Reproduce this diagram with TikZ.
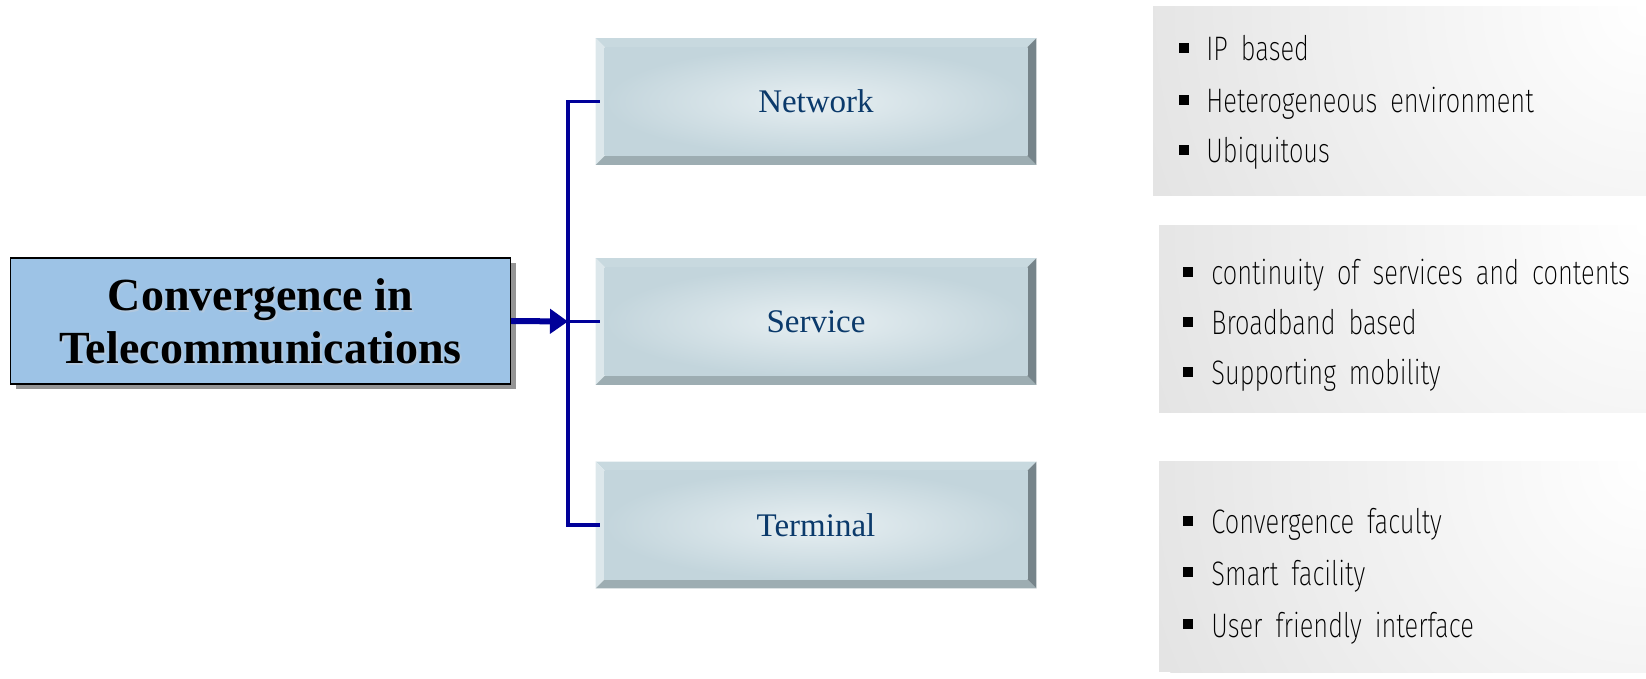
\documentclass[tikz,border=0pt]{standalone}
\usepackage{fontspec}
\setmainfont{Liberation Serif}
\newfontfamily\bulletfont{Fira Sans ExtraLight}[FakeStretch=0.75,WordSpace=1.8]
\usetikzlibrary{arrows.meta,shadows,backgrounds,calc}
\definecolor{convblue}{HTML}{9DC3E6}
\definecolor{convghost}{HTML}{B2C8DE}
\definecolor{linkblue}{HTML}{000099}
\definecolor{navytext}{HTML}{0B3A6B}
\definecolor{bevtop}{HTML}{C8D9DF}
\definecolor{bevleft}{HTML}{DCE7EB}
\definecolor{bevright}{HTML}{76848A}
\definecolor{bevbottom}{HTML}{9DADB2}
\definecolor{faceinner}{HTML}{E7EFF2}
\definecolor{faceouter}{HTML}{C3D5DC}
\definecolor{panelgray}{HTML}{E4E4E4}
\tikzset{
  mainbox/.style={draw=black, line width=0.6pt, fill=convblue,
    minimum width=250pt, minimum height=63pt, inner sep=0pt, align=center,
    font=\bfseries\fontsize{23}{26.5}\selectfont,
    drop shadow={shadow xshift=2.5pt, shadow yshift=-2.5pt, fill=black!42, opacity=1}},
  ghosttext/.style={inner sep=0pt, align=center, text=convghost,
    font=\bfseries\fontsize{23}{26.5}\selectfont},
  btnbox/.style={minimum width=220pt, minimum height=63pt, inner sep=0pt,
    text=navytext, font=\fontsize{16.5}{19}\selectfont},
  bus/.style={draw=linkblue, line width=1.8pt},
  feed/.style={draw=linkblue, line width=3pt,
    -{Triangle[length=9pt,width=12pt]}},
  bsq/.style={fill=black, minimum size=5.4pt, inner sep=0pt},
  bitem/.style={inner sep=0pt, anchor=base west, text=black,
    font=\bulletfont\fontsize{17}{19}\selectfont},
}
\newcommand{\bevelbox}[1]{%
  \fill[bevtop] (#1.north west) -- (#1.north east) -- ([xshift=-4.5pt,yshift=-4.5pt]#1.north east) -- ([xshift=4.5pt,yshift=-4.5pt]#1.north west) -- cycle;
  \fill[bevleft] (#1.north west) -- ([xshift=4.5pt,yshift=-4.5pt]#1.north west) -- ([xshift=4.5pt,yshift=4.5pt]#1.south west) -- (#1.south west) -- cycle;
  \fill[bevbottom] (#1.south west) -- ([xshift=4.5pt,yshift=4.5pt]#1.south west) -- ([xshift=-4.5pt,yshift=4.5pt]#1.south east) -- (#1.south east) -- cycle;
  \fill[bevright] (#1.north east) -- (#1.south east) -- ([xshift=-4.5pt,yshift=4.5pt]#1.south east) -- ([xshift=-4.5pt,yshift=-4.5pt]#1.north east) -- cycle;
  \shade[inner color=faceinner, outer color=faceouter] ([xshift=4.5pt,yshift=-4.5pt]#1.north west) rectangle ([xshift=-4.5pt,yshift=4.5pt]#1.south east);
}
\newcommand{\greypanel}[4]{%
  \begin{scope}
    \clip (#1,#2) rectangle (#3,#4);
    \fill[panelgray] (#1,#2) rectangle (#3,#4);
    \shade[inner color=white, outer color=panelgray] (#3,#2) circle[radius=260pt];
  \end{scope}
}
\begin{document}
\begin{tikzpicture}[x=0.5pt,y=-0.5pt]
\useasboundingbox (0,0) rectangle (1646,679);

% grey panels on the right
\greypanel{1153}{7}{1646}{196}
\greypanel{1159}{226}{1646}{413}
\greypanel{1159}{462}{1646}{672}

% main box
\node[mainbox] (conv) at (260.5,321) {\phantom{Convergence in}\\\phantom{Telecommunications}};
\node[ghosttext] (convghost) at (262.5,323) {Convergence in\\Telecommunications};
\node[ghosttext, text=black] (convtext) at (260.5,321) {Convergence in\\Telecommunications};

% bevelled buttons
\node[btnbox] (net)  at (816,101.5) {Network};
\node[btnbox] (serv) at (816,321.5) {Service};
\node[btnbox] (term) at (816,525)   {Terminal};
\begin{scope}[on background layer]
  \bevelbox{net}
  \bevelbox{serv}
  \bevelbox{term}
\end{scope}

% connectors
\coordinate (spine) at (568,321.5);
\draw[bus] ([xshift=2pt]net.west) -- (net.west -| spine) -- (term.west -| spine) -- ([xshift=2pt]term.west);
\draw[bus] (spine) -- ([xshift=2pt]serv.west);
\draw[feed] (conv.east) -- (spine);

% bullet lists
\node[bsq] (b11) at (1184,48) {};
\node[bitem] (t11) at (1206,61) {IP based};
\node[bsq] (b12) at (1184,100) {};
\node[bitem] (t12) at (1206,113) {Heterogeneous environment};
\node[bsq] (b13) at (1184,150) {};
\node[bitem] (t13) at (1206,163) {Ubiquitous};

\node[bsq] (b21) at (1188,272) {};
\node[bitem] (t21) at (1211,285) {continuity of services and contents};
\node[bsq] (b22) at (1188,322) {};
\node[bitem] (t22) at (1211,335) {Broadband based};
\node[bsq] (b23) at (1188,372) {};
\node[bitem] (t23) at (1211,385) {Supporting mobility};

\node[bsq] (b31) at (1188,521) {};
\node[bitem] (t31) at (1211,534) {Convergence faculty};
\node[bsq] (b32) at (1188,572) {};
\node[bitem] (t32) at (1211,585) {Smart facility};
\node[bsq] (b33) at (1188,624) {};
\node[bitem] (t33) at (1211,637) {User friendly interface};
\end{tikzpicture}
\end{document}
